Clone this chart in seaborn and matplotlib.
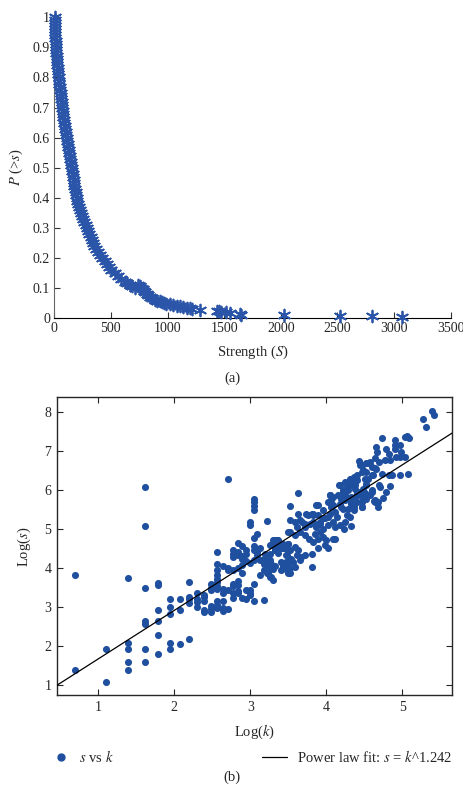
import numpy as np
import pandas as pd
import matplotlib
matplotlib.use("Agg")
import matplotlib.pyplot as plt
import seaborn as sns
from matplotlib.lines import Line2D

# ---- panel (a): cumulative strength distribution P(>s) ----
strength = [3, 4, 5, 6, 7, 8, 9, 10, 12, 13, 14, 16, 18, 20, 22, 25, 27, 30, 32, 35,
            38, 42, 45, 49, 52, 55, 58, 61, 64, 67, 70, 74, 77, 81, 85, 88, 92, 96, 100, 104,
            108, 112, 117, 122, 127, 132, 137, 141, 146, 150, 155, 159, 163, 167, 170, 174, 178, 183, 188, 193,
            198, 205, 212, 220, 228, 236, 245, 253, 262, 276, 292, 300, 310, 320, 330, 342, 355, 372, 390, 408,
            425, 445, 465, 485, 505, 532, 560, 592, 625, 645, 665, 690, 715, 740, 760, 770, 780, 790, 800, 815,
            830, 845, 865, 890, 910, 930, 950, 965, 990, 1020, 1050, 1080, 1110, 1140, 1170, 1195, 1215, 1285, 1435, 1457,
            1470, 1520, 1550, 1640, 1650, 2030, 2520, 2810, 3070]
p_exceed = [1.00, 0.99, 0.98, 0.97, 0.96, 0.95, 0.94, 0.93, 0.92, 0.91, 0.90, 0.89, 0.88, 0.87, 0.86, 0.85, 0.84, 0.83, 0.82, 0.81,
            0.80, 0.79, 0.78, 0.77, 0.76, 0.75, 0.74, 0.73, 0.72, 0.71, 0.70, 0.69, 0.68, 0.67, 0.66, 0.65, 0.64, 0.63, 0.62, 0.61,
            0.60, 0.59, 0.58, 0.57, 0.56, 0.55, 0.54, 0.53, 0.52, 0.51, 0.50, 0.49, 0.48, 0.47, 0.46, 0.45, 0.44, 0.43, 0.42, 0.41,
            0.40, 0.39, 0.38, 0.37, 0.36, 0.35, 0.34, 0.33, 0.32, 0.31, 0.30, 0.29, 0.28, 0.27, 0.26, 0.25, 0.24, 0.23, 0.22, 0.21,
            0.20, 0.19, 0.18, 0.17, 0.16, 0.15, 0.14, 0.13, 0.12, 0.115, 0.11, 0.105, 0.10, 0.108, 0.104, 0.10, 0.095, 0.09, 0.085, 0.08,
            0.075, 0.07, 0.065, 0.06, 0.057, 0.055, 0.052, 0.05, 0.047, 0.045, 0.042, 0.04, 0.038, 0.035, 0.033, 0.031, 0.029, 0.026, 0.022, 0.021,
            0.020, 0.018, 0.017, 0.012, 0.010, 0.008, 0.006, 0.005, 0.002]
strength_ticks = [0, 500, 1000, 1500, 2000, 2500, 3000, 3500]
p_ticks = [0, 0.1, 0.2, 0.3, 0.4, 0.5, 0.6, 0.7, 0.8, 0.9, 1]

# ---- panel (b): log(s) against log(k) ----
low_k_points = [
    (0.693, 1.38), (0.693, 3.81),
    (1.099, 1.92), (1.099, 1.08),
    (1.386, 3.75), (1.386, 2.08), (1.386, 1.93), (1.386, 1.59), (1.386, 1.38),
    (1.609, 6.08), (1.609, 5.07), (1.609, 3.49), (1.609, 2.64), (1.609, 2.57), (1.609, 1.93), (1.609, 1.60),
    (1.792, 3.62), (1.792, 3.56), (1.792, 2.93), (1.792, 2.64), (1.792, 2.28), (1.792, 1.79),
    (1.946, 3.20), (1.946, 2.99), (1.946, 2.83), (1.946, 2.08), (1.946, 1.93),
    (2.079, 3.20), (2.079, 2.93), (2.079, 2.06),
    (2.197, 3.64), (2.197, 3.25), (2.197, 3.20), (2.197, 3.10), (2.197, 2.17),
    (2.303, 3.35), (2.303, 3.20), (2.303, 3.14), (2.303, 3.00),
    (2.398, 3.30), (2.398, 3.26), (2.398, 3.16), (2.398, 2.93), (2.398, 2.87),
    (2.485, 3.60), (2.485, 3.50), (2.485, 3.43), (2.485, 3.02), (2.485, 2.96), (2.485, 2.88),
    (2.565, 4.41), (2.565, 4.11), (2.565, 3.94), (2.565, 3.81), (2.565, 3.73), (2.565, 3.65),
    (2.565, 3.53), (2.565, 3.45), (2.565, 3.16), (2.565, 3.05), (2.565, 2.97),
    (2.639, 4.06), (2.639, 3.47), (2.639, 3.36), (2.639, 3.15), (2.639, 2.97), (2.639, 2.90),
    (2.708, 6.27), (2.708, 4.00), (2.708, 3.94), (2.708, 3.43), (2.708, 2.95),
    (2.773, 4.45), (2.773, 4.37), (2.773, 4.27), (2.773, 3.96), (2.773, 3.58), (2.773, 3.54), (2.773, 3.35), (2.773, 3.24),
    (2.833, 4.64), (2.833, 4.41), (2.833, 4.33), (2.833, 4.00), (2.833, 3.68), (2.833, 3.56), (2.833, 3.41), (2.833, 3.35),
    (2.890, 4.56), (2.890, 4.30), (2.890, 4.22), (2.890, 4.09), (2.890, 3.86), (2.890, 3.22),
    (2.944, 4.46), (2.944, 4.36), (2.944, 4.18), (2.944, 3.43), (2.944, 3.20),
    (2.996, 5.18), (2.996, 5.10), (2.996, 4.13), (2.996, 3.44), (2.996, 3.37), (2.996, 3.30),
    (3.045, 5.78), (3.045, 5.68), (3.045, 5.58), (3.045, 5.48), (3.045, 4.77), (3.045, 4.56),
    (3.045, 4.47), (3.045, 4.20), (3.045, 3.58), (3.045, 3.16),
    (3.091, 4.88), (3.091, 4.41), (3.091, 4.33),
    (3.135, 4.50), (3.135, 4.20), (3.135, 3.81),
    (3.178, 4.24), (3.178, 4.11), (3.178, 3.94), (3.178, 3.17),
    (3.219, 5.20), (3.219, 4.15), (3.219, 3.99), (3.219, 3.86),
    (3.258, 4.58), (3.258, 4.37), (3.258, 4.20), (3.258, 4.11), (3.258, 3.77),
    (3.296, 4.71), (3.296, 4.58), (3.296, 3.98), (3.296, 3.70),
    (3.332, 4.71), (3.332, 4.45), (3.332, 4.05),
    (3.367, 4.71), (3.367, 4.58), (3.367, 4.38),
    (3.401, 4.50), (3.401, 4.15), (3.401, 3.94),
    (3.434, 4.62), (3.434, 4.50), (3.434, 4.06),
    (3.466, 4.33), (3.466, 4.15), (3.466, 3.98),
    (3.497, 4.92), (3.497, 4.62), (3.497, 4.45), (3.497, 3.86),
    (3.526, 5.58), (3.526, 5.24), (3.526, 4.24), (3.526, 4.00),
]
mid_k_points = [
    (3.63, 5.92), (3.63, 5.39), (3.59, 5.18), (3.65, 5.22), (3.61, 5.05), (3.52, 4.92), (3.59, 4.84),
    (3.65, 4.92), (3.72, 5.05), (3.76, 5.35), (3.81, 5.39), (3.89, 5.61), (3.89, 5.35), (3.96, 5.48),
    (3.98, 5.27), (4.05, 5.39), (4.07, 5.57), (4.05, 5.86), (4.09, 5.82), (4.03, 5.69),
    (3.83, 5.18), (3.87, 5.05), (3.92, 5.14), (3.96, 5.01), (4.03, 5.10), (4.09, 5.18), (4.14, 5.31),
    (4.11, 5.05), (4.18, 5.10), (4.25, 5.18), (4.27, 5.35), (4.24, 5.01), (4.33, 5.07), (4.20, 5.57),
    (4.25, 5.74), (4.22, 5.95), (4.18, 6.12),
    (3.72, 4.84), (3.78, 4.75), (3.85, 4.88), (3.89, 4.75), (3.96, 4.80), (3.92, 4.92), (3.83, 4.67),
    (3.98, 4.58), (4.03, 4.50), (4.09, 4.75), (4.00, 4.71), (4.11, 4.75), (3.89, 4.50), (3.81, 4.03),
    (3.50, 4.62), (3.43, 4.50), (3.52, 4.45), (3.59, 4.54), (3.63, 4.45), (3.48, 4.33), (3.54, 4.24),
    (3.61, 4.33), (3.67, 4.28), (3.72, 4.33), (3.81, 4.37), (3.65, 4.20), (3.50, 4.15), (3.48, 3.98),
    (3.52, 3.86), (3.59, 4.03), (3.56, 4.15),
    (3.35, 4.71), (3.37, 4.58), (3.32, 4.45), (3.24, 4.20), (3.28, 4.11), (3.24, 3.86), (3.28, 3.77),
    (3.19, 4.37), (3.26, 3.98),
    (3.79, 5.14), (3.72, 5.14), (3.68, 5.18), (3.82, 5.39), (3.86, 5.61), (3.83, 5.35), (3.74, 5.39),
    (3.87, 5.09), (3.92, 5.18), (3.96, 5.27), (4.03, 5.31), (4.11, 5.44), (4.09, 5.61), (4.07, 5.74),
    (4.05, 5.86),
]
high_k_points = [
    (4.33, 6.25), (4.38, 6.12), (4.40, 6.38), (4.47, 6.46), (4.51, 6.29), (4.44, 6.63), (4.55, 6.68),
    (4.64, 6.55), (4.73, 6.42), (4.60, 6.38), (4.53, 6.12), (4.47, 5.95), (4.40, 5.91), (4.33, 5.82),
    (4.29, 5.99), (4.27, 6.16), (4.33, 5.65), (4.40, 5.69), (4.47, 5.82), (4.51, 5.91), (4.60, 5.95),
    (4.64, 5.74), (4.71, 6.08), (4.68, 5.57), (4.47, 5.57), (4.36, 5.48), (4.32, 5.31),
    (4.31, 6.29), (4.36, 6.33), (4.40, 6.25), (4.33, 6.12), (4.38, 6.03), (4.42, 5.95), (4.27, 6.08),
    (4.22, 5.99), (4.25, 5.86), (4.29, 5.78), (4.33, 5.69), (4.38, 5.82), (4.44, 5.86), (4.49, 6.03),
    (4.53, 6.16), (4.55, 6.29), (4.47, 5.69), (4.53, 5.78), (4.58, 5.86), (4.64, 5.69), (4.47, 5.56),
    (4.36, 5.56), (4.29, 5.52), (4.22, 5.52), (4.18, 5.65), (4.16, 5.86), (4.17, 6.12), (4.25, 6.21),
    (4.20, 5.78),
    (4.70, 6.12), (4.60, 5.99), (4.68, 5.69), (4.63, 5.71), (4.75, 5.80), (4.79, 5.95), (4.84, 6.10),
    (4.43, 6.74), (4.47, 6.63), (4.49, 6.50), (4.53, 6.46), (4.53, 6.68), (4.58, 6.72), (4.60, 6.59),
    (4.62, 6.38), (4.64, 6.82), (4.65, 6.53), (4.66, 7.10), (4.67, 6.97), (4.70, 6.72), (4.73, 7.32),
    (4.77, 6.76), (4.79, 7.06), (4.83, 6.91), (4.83, 6.39), (4.84, 6.76), (4.86, 6.38), (4.90, 7.27),
    (4.90, 7.16), (4.90, 7.06), (4.92, 6.85), (4.97, 7.15), (4.97, 6.85), (4.97, 6.39), (4.99, 6.97),
    (5.04, 6.85), (5.04, 7.36), (5.07, 7.39), (5.08, 6.42), (5.09, 7.33),
    (5.28, 7.81), (5.31, 7.62), (5.39, 8.02), (5.42, 7.92),
]
fit_slope = 1.242
fit_intercept = 0.43
logk_ticks = [1, 2, 3, 4, 5]
logs_ticks = [1, 2, 3, 4, 5, 6, 7, 8]

blue_a = "#2b55a8"
blue_b = "#1f4f9f"

sns.set_style("ticks")
plt.rcParams["font.family"] = ["Liberation Serif", "DejaVu Serif"]
plt.rcParams["mathtext.fontset"] = "stix"
plt.rcParams["xtick.direction"] = "in"
plt.rcParams["ytick.direction"] = "in"

fig = plt.figure(figsize=(4.64, 7.86), dpi=100)

# PANEL (a)
ax_a = fig.add_axes([0.117, 0.5958, 0.854, 0.382])
sns.scatterplot(x=strength, y=p_exceed, ax=ax_a, marker=(6, 2, 0), s=72,
                color=blue_a, linewidth=1.3, clip_on=False, zorder=3)
ax_a.set_xlim(0, 3500)
ax_a.set_ylim(0, 1)
ax_a.set_xticks(strength_ticks)
ax_a.set_yticks(p_ticks)
ax_a.set_yticklabels([f"{t:g}" for t in p_ticks])
ax_a.tick_params(labelsize=10, length=4, width=0.8, color="#333333", pad=3)
sns.despine(ax=ax_a)
ax_a.spines["left"].set_color("#666666")
ax_a.spines["bottom"].set_color("black")
ax_a.set_xlabel("Strength ($S$)", fontsize=10.5, labelpad=6)
ax_a.set_ylabel("$P$ (>$s$)", fontsize=10.5, labelpad=6)
fig.text(232 / 464, 1 - 378 / 786, "(a)", ha="center", va="center", fontsize=10.5)

# PANEL (b)
scatter_df = pd.DataFrame(low_k_points + mid_k_points + high_k_points,
                          columns=["log_k", "log_s"])
ax_b = fig.add_axes([0.1228, 0.1154, 0.852, 0.379])
sns.scatterplot(data=scatter_df, x="log_k", y="log_s", ax=ax_b, s=26,
                color=blue_b, edgecolor=blue_b, linewidth=0, zorder=3)
ax_b.axline((0, fit_intercept), slope=fit_slope, color="black", lw=0.9, zorder=4)
ax_b.set_xlim(0.457, 5.66)
ax_b.set_ylim(0.74, 8.37)
ax_b.set_xticks(logk_ticks)
ax_b.set_yticks(logs_ticks)
ax_b.tick_params(labelsize=10, length=4, width=0.8, top=True, right=True, pad=4)
for sp in ax_b.spines.values():
    sp.set_linewidth(1.0)
ax_b.set_xlabel("Log($k$)", fontsize=10.5, labelpad=6)
ax_b.set_ylabel("Log($s$)", fontsize=10.5, labelpad=8)

dot_handle = Line2D([], [], linestyle="none", marker="o", markersize=5,
                    color=blue_b)
fit_handle = Line2D([], [], color="black", lw=0.9)
leg1 = ax_b.legend([dot_handle], ["$s$ vs $k$"], loc="center left",
                   bbox_to_anchor=(0.0, -0.208), frameon=False, fontsize=10.5,
                   handlelength=0.5, handletextpad=1.0, borderpad=0,
                   borderaxespad=0)
ax_b.add_artist(leg1)
ax_b.legend([fit_handle], ["Power law fit: $s$ = $k$^1.242"], loc="center right",
            bbox_to_anchor=(1.0, -0.208), frameon=False, fontsize=10.5,
            handlelength=1.7, handletextpad=0.7, borderpad=0, borderaxespad=0)
fig.text(232 / 464, 2 / 786, "(b)", ha="center", va="bottom", fontsize=10.5)

fig.savefig("out.png", dpi=100)
